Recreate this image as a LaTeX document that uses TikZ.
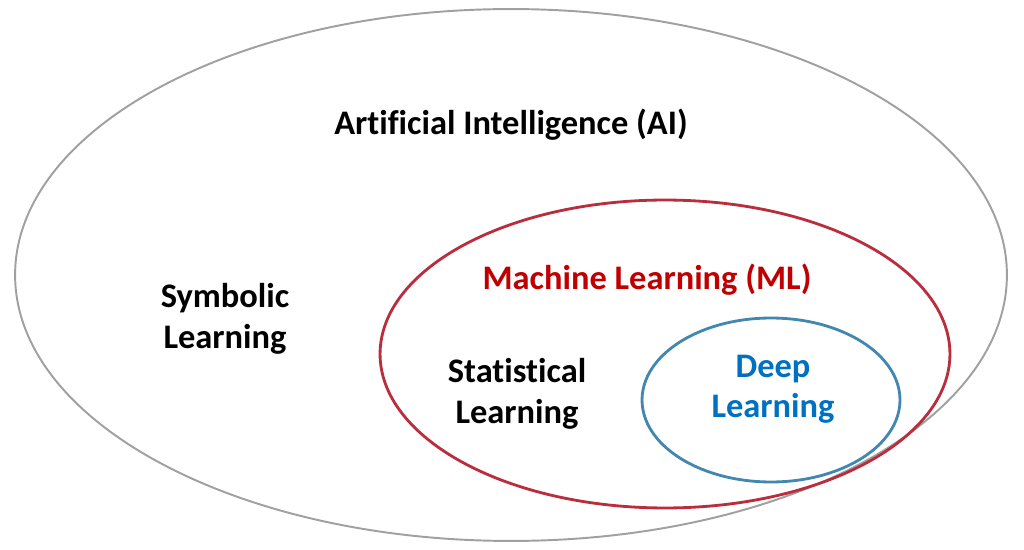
\documentclass[tikz,border=0pt]{standalone}
\usepackage{fontspec}
\setmainfont{Carlito}[Ligatures=NoCommon]
\usetikzlibrary{shapes.geometric, positioning}
\definecolor{aicolor}{RGB}{160,160,160}
\definecolor{mlcolor}{RGB}{185,45,60}
\definecolor{dlcolor}{RGB}{65,135,175}
\definecolor{mltext}{RGB}{192,0,0}
\definecolor{dltext}{RGB}{0,112,192}

\begin{document}
\begin{tikzpicture}[
    x=0.02cm, y=-0.02cm,
    every node/.style={font=\fontsize{19.6}{23}\selectfont\bfseries},
    setbox/.style={ellipse, draw=#1, inner sep=0pt, line width=1.6pt},
    settext/.style={align=center, inner sep=0pt},
]
\useasboundingbox (0,0) rectangle (1024,550);

% === SETS ===
\node[setbox=aicolor, line width=1.1pt, minimum width=19.84cm, minimum height=10.64cm] (ai) at (511,275) {};
\node[setbox=mlcolor, minimum width=11.4cm, minimum height=6.16cm] (ml) at (665,354) {};
\node[setbox=dlcolor, minimum width=5.16cm, minimum height=3.28cm] (dl) at (771,400) {};

% === LABELS ===
\node[settext] (ai_txt) at (511,125) {Artificial Intelligence (AI)};
\node[settext] (sym_txt) at (225,319) {Symbolic\\Learning};
\node[settext, mltext] (ml_txt) at (647,280) {Machine Learning (ML)};
\node[settext] (stat_txt) at (517,394) {Statistical\\Learning};
\node[settext, dltext] (dl_txt) at (773,389) {Deep\\Learning};

\end{tikzpicture}
\end{document}
